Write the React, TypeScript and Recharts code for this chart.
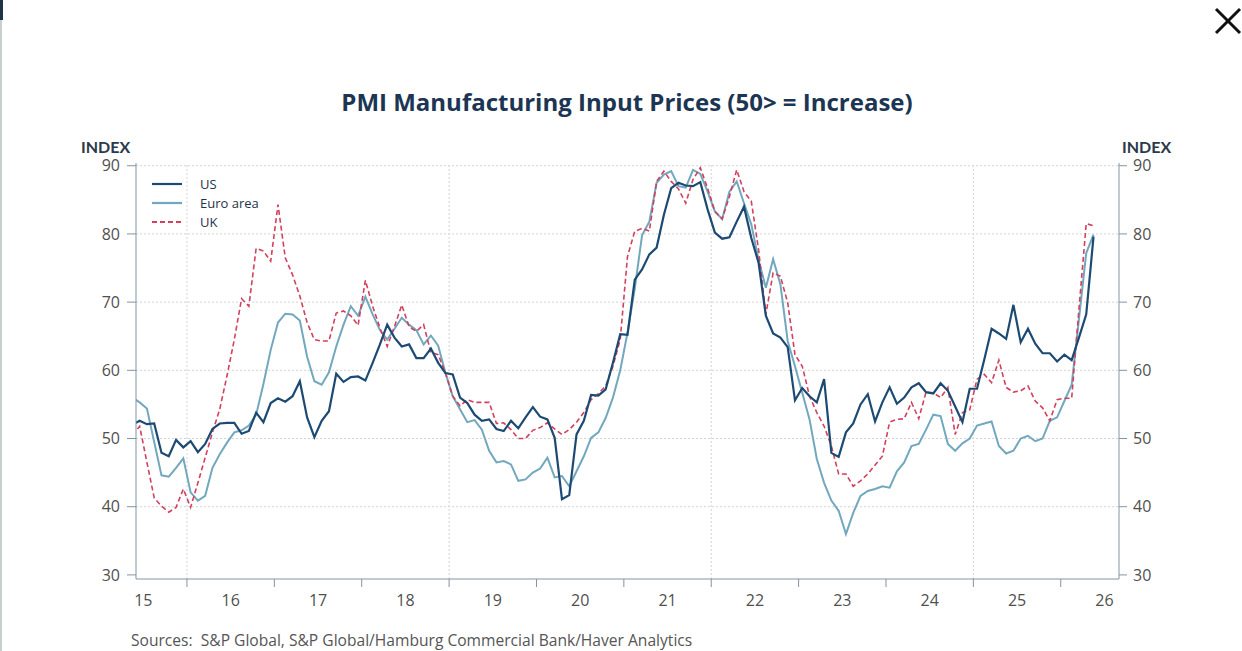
import { Legend, Line, LineChart, ReferenceLine, XAxis, YAxis } from "recharts"

// monthly readings, May 2015 to May 2026 (month 0 = Jan 2015)
const firstMonth = 4

const us = [
  52.0, 52.6, 52.1, 52.2, 47.9, 47.4, 49.8, 48.7, 49.6, 48.0,
  49.2, 51.4, 52.2, 52.3, 52.3, 50.7, 51.1, 53.8, 52.4, 55.2,
  55.9, 55.4, 56.2, 58.4, 53.1, 50.2, 52.6, 54.0, 59.5, 58.3,
  59.0, 59.1, 58.5, 61.1, 63.8, 66.7, 64.8, 63.5, 63.8, 61.8,
  61.8, 63.2, 61.1, 59.6, 59.4, 56.0, 55.2, 53.5, 52.6, 52.8,
  51.4, 51.1, 52.6, 51.5, 53.1, 54.6, 53.2, 52.8, 50.1, 41.1,
  41.7, 50.6, 52.6, 56.4, 56.3, 57.2, 61.1, 65.3, 65.2, 73.3,
  74.8, 77.0, 78.0, 82.8, 86.7, 87.5, 87.1, 87.0, 87.6, 83.6,
  80.2, 79.3, 79.5, 81.8, 84.0, 79.4, 75.8, 68.0, 65.4, 64.8,
  63.4, 55.6, 57.4, 56.2, 55.3, 58.7, 47.9, 47.3, 50.9, 52.2,
  55.0, 56.5, 52.5, 55.3, 57.5, 55.1, 56.0, 57.5, 58.1, 56.8,
  56.6, 58.1, 57.0, 54.7, 52.4, 57.3, 57.3, 61.6, 66.1, 65.4,
  64.6, 69.6, 64.1, 66.1, 63.9, 62.5, 62.5, 61.3, 62.3, 61.5,
  64.8, 68.2, 79.6,
]

const euroArea = [
  56.0, 55.3, 54.4, 49.5, 44.6, 44.4, 45.7, 47.1, 42.1, 40.9,
  41.6, 45.7, 47.7, 49.4, 50.9, 51.2, 51.9, 53.5, 58.0, 63.0,
  67.0, 68.3, 68.2, 67.3, 62.0, 58.4, 57.9, 59.7, 63.5, 66.7,
  69.4, 68.0, 70.8, 68.2, 65.9, 64.5, 66.1, 67.7, 66.7, 65.9,
  63.8, 65.1, 63.6, 59.6, 56.2, 54.3, 52.4, 52.7, 51.3, 48.2,
  46.5, 46.7, 46.2, 43.8, 44.0, 45.0, 45.6, 47.2, 44.3, 44.5,
  43.0, 45.2, 47.4, 50.1, 50.9, 53.0, 56.0, 60.0, 65.5, 72.0,
  79.8, 81.8, 87.5, 88.7, 89.2, 87.0, 86.8, 89.4, 88.8, 86.2,
  83.3, 82.2, 86.2, 87.7, 84.5, 81.4, 76.2, 72.1, 76.3, 72.6,
  64.3, 60.6, 56.7, 52.8, 47.0, 43.5, 40.9, 39.4, 36.0, 39.1,
  41.6, 42.3, 42.6, 43.0, 42.8, 45.2, 46.5, 48.9, 49.2, 51.3,
  53.5, 53.3, 49.2, 48.2, 49.3, 50.0, 51.9, 52.2, 52.5, 48.9,
  47.8, 48.2, 50.0, 50.4, 49.6, 50.0, 52.6, 53.1, 55.5, 57.9,
  67.5, 77.2, 79.9,
]

const uk = [
  50.5, 51.8, 46.5, 41.3, 40.1, 39.2, 39.9, 42.6, 39.9, 43.5,
  47.2, 50.9, 54.3, 59.2, 64.5, 70.5, 69.4, 77.9, 77.5, 76.0,
  84.3, 76.5, 74.0, 70.9, 67.0, 64.5, 64.3, 64.3, 68.4, 68.7,
  68.0, 66.6, 73.2, 69.4, 66.2, 63.5, 66.4, 69.6, 66.4, 65.7,
  66.7, 62.6, 62.3, 59.6, 56.2, 54.8, 55.7, 55.3, 55.3, 55.3,
  52.2, 52.3, 51.3, 50.0, 50.0, 51.2, 51.6, 52.3, 51.4, 50.6,
  51.3, 52.4, 53.8, 55.7, 56.6, 57.7, 60.6, 64.5, 76.7, 80.4,
  80.8, 80.4, 87.7, 89.2, 87.7, 86.6, 84.5, 88.0, 89.7, 86.7,
  83.3, 82.2, 85.5, 89.4, 86.2, 84.8, 77.7, 68.2, 74.3, 73.8,
  69.9, 62.3, 60.6, 56.2, 53.8, 51.8, 48.9, 44.8, 44.8, 43.0,
  43.8, 44.8, 46.1, 47.4, 52.4, 52.8, 52.9, 55.3, 52.9, 56.8,
  56.7, 56.0, 57.5, 50.6, 53.8, 54.2, 58.7, 59.4, 58.2, 61.5,
  57.5, 56.8, 57.0, 57.7, 55.5, 54.5, 52.6, 55.7, 55.9, 55.9,
  69.0, 81.5, 81.2,
]

const yearLabels = ["15", "16", "17", "18", "19", "20", "21", "22", "23", "24", "25", "26"]
const yTicks = [30, 40, 50, 60, 70, 80, 90]
const gridLevels = [40, 50, 60, 70, 80, 90]
const gridYears = [2016, 2019, 2022, 2025]

const series = [
  { key: "us", name: "US", color: "#1d4a73", dash: undefined },
  { key: "euro", name: "Euro area", color: "#72a8be", dash: undefined },
  { key: "uk", name: "UK", color: "#d2405e", dash: "5 3" },
]

const data = us.map((v, i) => ({
  t: firstMonth + i + 0.5,
  us: v,
  euro: euroArea[i],
  uk: uk[i],
}))

const monthOf = (year: number) => (year - 2015) * 12

// year boundaries carry tick marks, mid-years carry the labels
const xTicks = yearLabels.flatMap((_, i) => (i < yearLabels.length - 1 ? [i * 12 + 6, (i + 1) * 12] : [i * 12 + 6]))

const axisColor = "#8393a3"
const tickColor = "#505050"
const gridColor = "#d4d4d4"

function YearTick(props: any) {
  const { x, y, payload } = props
  const v = payload.value
  if (v % 12 === 0) {
    return <line x1={x} x2={x} y1={y} y2={y + 8} stroke={axisColor} strokeWidth={1} />
  }
  return (
    <text x={x} y={y + 27} textAnchor="middle" fontSize={16} fill={tickColor}>
      {yearLabels[(v - 6) / 12]}
    </text>
  )
}

function SeriesLegend() {
  return (
    <svg width={130} height={60}>
      {series.map((s, i) => (
        <g key={s.key}>
          <line x1={2} x2={32} y1={10 + i * 19} y2={10 + i * 19} stroke={s.color} strokeWidth={2.2} strokeDasharray={s.dash} />
          <text x={50} y={14.5 + i * 19} fontSize={13} fill="#1f3347">
            {s.name}
          </text>
        </g>
      ))}
    </svg>
  )
}

export default function App() {
  return (
    <div
      style={{
        position: "absolute",
        left: 0,
        top: 0,
        width: 1242,
        height: 651,
        background: "#fff",
        overflow: "hidden",
        fontFamily: "'Open Sans', sans-serif",
      }}
    >
      <LineChart width={1242} height={651} data={data} margin={{ top: 163, right: 73, bottom: 32, left: 86 }}>
        {gridLevels.map((v) => (
          <ReferenceLine key={"h" + v} yAxisId="left" y={v} stroke={gridColor} strokeDasharray="2 2" />
        ))}
        {gridYears.map((y) => (
          <ReferenceLine key={"v" + y} yAxisId="left" x={monthOf(y)} stroke={gridColor} strokeDasharray="2 2" />
        ))}
        <XAxis
          dataKey="t"
          type="number"
          domain={[5, 140]}
          allowDataOverflow
          ticks={xTicks}
          interval={0}
          tick={YearTick}
          tickLine={false}
          tickSize={0}
          tickMargin={0}
          height={40}
          axisLine={{ stroke: axisColor }}
        />
        <YAxis
          yAxisId="left"
          domain={[29.4, 90.4]}
          allowDataOverflow
          ticks={yTicks}
          interval={0}
          width={50}
          tickSize={9}
          tickMargin={7}
          tick={{ fontSize: 16, fill: tickColor }}
          tickLine={{ stroke: axisColor }}
          axisLine={{ stroke: axisColor }}
        />
        <YAxis
          yAxisId="right"
          orientation="right"
          domain={[29.4, 90.4]}
          allowDataOverflow
          ticks={yTicks}
          interval={0}
          width={50}
          tickSize={8}
          tickMargin={6}
          tick={{ fontSize: 16, fill: tickColor, textAnchor: "start" }}
          tickLine={{ stroke: axisColor }}
          axisLine={{ stroke: axisColor }}
        />
        <Line yAxisId="left" type="linear" dataKey="euro" stroke="#72a8be" strokeWidth={2} dot={false} isAnimationActive={false} />
        <Line yAxisId="left" type="linear" dataKey="uk" stroke="#d2405e" strokeWidth={1.6} strokeDasharray="5 3" dot={false} isAnimationActive={false} />
        <Line yAxisId="left" type="linear" dataKey="us" stroke="#1d4a73" strokeWidth={2.2} dot={false} isAnimationActive={false} />
        <Legend
          layout="horizontal"
          align="center"
          verticalAlign="middle"
          content={SeriesLegend}
          wrapperStyle={{ left: 150, top: 174, width: 130, height: 60 }}
        />
      </LineChart>

      <svg width={1242} height={651} style={{ position: "absolute", left: 0, top: 0, pointerEvents: "none" }}>
        <rect x={0} y={0} width={2} height={651} fill="#c9ced3" />
        <rect x={0} y={0} width={3} height={20} fill="#1f3347" />
        <text x={627} y={111} textAnchor="middle" fontFamily="'Open Sans', sans-serif" fontWeight={700} fontSize={24} fill="#1b3553">
          PMI Manufacturing Input Prices (50&gt; = Increase)
        </text>
        <text x={81} y={153} fontFamily="Lato, sans-serif" fontWeight={700} fontSize={16} fill="#2b3a4a">
          INDEX
        </text>
        <text x={1122} y={153} fontFamily="Lato, sans-serif" fontWeight={700} fontSize={16} fill="#2b3a4a">
          INDEX
        </text>
        <text x={131} y={646} fontSize={15.6} fill="#555" style={{ whiteSpace: "pre" }}>
          {"Sources:  S&P Global, S&P Global/Hamburg Commercial Bank/Haver Analytics"}
        </text>
        <line x1={1216} y1={9} x2={1240} y2={33} stroke="#111" strokeWidth={3} />
        <line x1={1240} y1={9} x2={1216} y2={33} stroke="#111" strokeWidth={3} />
      </svg>
    </div>
  )
}
